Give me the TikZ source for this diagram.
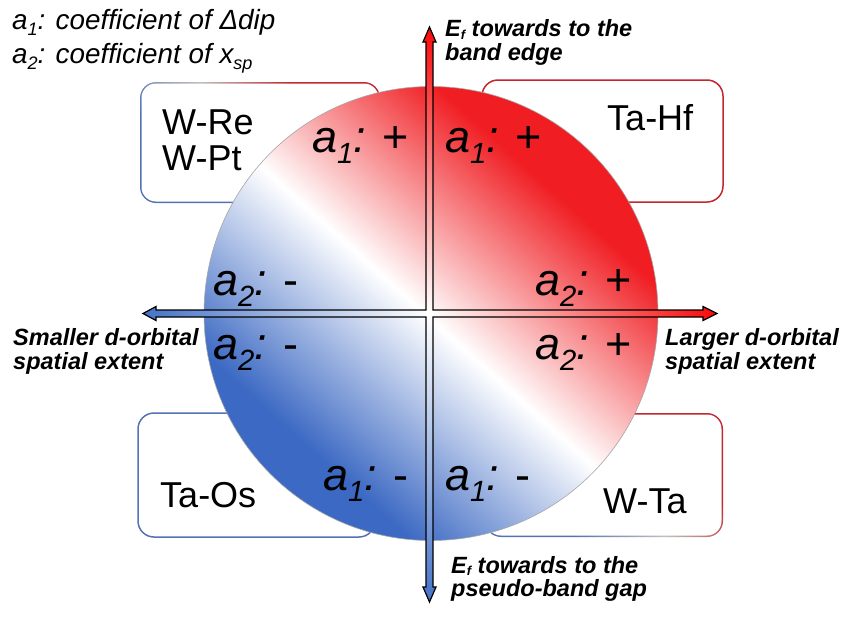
\documentclass[tikz,border=0pt]{standalone}
\usepackage{fontspec}
\setmainfont{Liberation Sans}
\usepackage{graphicx}
\definecolor{cred}{RGB}{240,30,35}
\definecolor{cblue}{RGB}{60,105,195}
\definecolor{bred}{RGB}{195,40,45}
\definecolor{bblue}{RGB}{85,115,180}
\definecolor{ared}{RGB}{250,10,10}
\definecolor{ablue}{RGB}{70,115,200}
\pgfdeclarehorizontalshading{circshade}{100bp}{color(0bp)=(cblue); color(30bp)=(cblue); color(49.5bp)=(white); color(69bp)=(cred); color(100bp)=(cred)}
\pgfdeclarehorizontalshading{boxshade}{100bp}{color(0bp)=(bblue); color(32bp)=(bblue); color(50bp)=(black!25); color(68bp)=(bred); color(100bp)=(bred)}
\newcommand\sbs[1]{\raisebox{-0.25em}{\scalebox{0.65}{#1}}}
\newcommand\asb[1]{\raisebox{-0.12em}{\scalebox{0.55}{#1}}}
\tikzset{
  legtext/.style={anchor=base west, inner sep=0pt, font=\fontsize{27.8}{30}\selectfont\itshape},
  axtext/.style={anchor=base west, inner sep=0pt, font=\fontsize{23.5}{26}\selectfont\bfseries\itshape},
  coef/.style={anchor=base west, inner sep=0pt, font=\fontsize{45}{50}\selectfont},
  boxtext/.style={anchor=base west, inner sep=0pt, font=\fontsize{36}{40}\selectfont},
  boxline/.style={line width=1.5pt, rounded corners=16pt},
  axline/.style={line width=1.2pt, line join=miter},
}
\begin{document}
\begin{tikzpicture}[x=1pt,y=-1pt]
\fill[white] (0,0) rectangle (849,616);
\useasboundingbox (0,0) rectangle (849,616);
% boxes
\shade[shading=boxshade, shading angle=45, rounded corners=16pt] (140,82) rectangle (380,203);
\fill[white, rounded corners=14.5pt] (141.5,83.5) rectangle (378.5,201.5);
\draw[boxline, draw=bred, fill=white] (482,80) rectangle (723,202);
\draw[boxline, draw=bblue, fill=white] (138,413) rectangle (375,537);
\shade[shading=boxshade, shading angle=45, rounded corners=16pt] (485,413) rectangle (723,537);
\fill[white, rounded corners=14.5pt] (486.5,414.5) rectangle (721.5,535.5);
% circle
\coordinate (C) at (431,313.5);
\shade[shading=circshade, shading angle=48] (C) circle[radius=227];
\draw[black!35, line width=0.6pt] (C) circle[radius=227];
% axes fills
\shade[top color=ared, bottom color=white] (426,313.5) -- (426,42) -- (423,42) -- (429.5,27) -- (436,42) -- (433,42) -- (433,313.5) -- cycle;
\shade[top color=white, bottom color=ablue] (426,313.5) -- (426,587) -- (423,587) -- (429.5,602) -- (436,587) -- (433,587) -- (433,313.5) -- cycle;
\shade[left color=ablue, right color=white] (429.5,310) -- (156,310) -- (156,306.5) -- (143,313.5) -- (156,320.5) -- (156,317) -- (429.5,317) -- cycle;
\shade[left color=white, right color=ared] (429.5,310) -- (703,310) -- (703,306.5) -- (717,313.5) -- (703,320.5) -- (703,317) -- (429.5,317) -- cycle;
\fill[white] (426,310) rectangle (433,317);
\draw[axline] (426,310) -- (426,42) -- (423,42) -- (429.5,27) -- (436,42) -- (433,42) -- (433,310)
  -- (703,310) -- (703,306.5) -- (717,313.5) -- (703,320.5) -- (703,317) -- (433,317)
  -- (433,587) -- (436,587) -- (429.5,602) -- (423,587) -- (426,587) -- (426,317)
  -- (156,317) -- (156,320.5) -- (143,313.5) -- (156,306.5) -- (156,310) -- cycle;
% legend
\node[legtext] (leg1) at (12,29) {a\sbs{1}: coefficient of Δdip};
\node[legtext] (leg2) at (12,63) {a\sbs{2}: coefficient of x\sbs{sp}};
% axis labels
\node[axtext] (top1) at (445,36.5) {E\asb{f} towards to the};
\node[axtext] (top2) at (445,60) {band edge};
\node[axtext] (bot1) at (451,573) {E\asb{f} towards to the};
\node[axtext] (bot2) at (451,596) {pseudo-band gap};
\node[axtext] (lef1) at (13,345) {Smaller d-orbital};
\node[axtext] (lef2) at (13,369) {spatial extent};
\node[axtext] (rig1) at (665,345) {Larger d-orbital};
\node[axtext] (rig2) at (665,369) {spatial extent};
% coefficients
\node[coef] (q1) at (312,152) {\textit{a\sbs{1}:} +};
\node[coef] (q2) at (445,152) {\textit{a\sbs{1}:} +};
\node[coef] (q3) at (213,295) {\textit{a\sbs{2}:} -};
\node[coef] (q4) at (213,359) {\textit{a\sbs{2}:} -};
\node[coef] (q5) at (535,295) {\textit{a\sbs{2}:} +};
\node[coef] (q6) at (535,359) {\textit{a\sbs{2}:} +};
\node[coef] (q7) at (323,490) {\textit{a\sbs{1}:} -};
\node[coef] (q8) at (445,490) {\textit{a\sbs{1}:} -};
% box texts
\node[boxtext] (b1) at (162,134) {W-Re};
\node[boxtext] (b2) at (162,170) {W-Pt};
\node[boxtext] (b3) at (607,130) {Ta-Hf};
\node[boxtext] (b4) at (160,507) {Ta-Os};
\node[boxtext] (b5) at (603,513) {W-Ta};
\end{tikzpicture}
\end{document}
